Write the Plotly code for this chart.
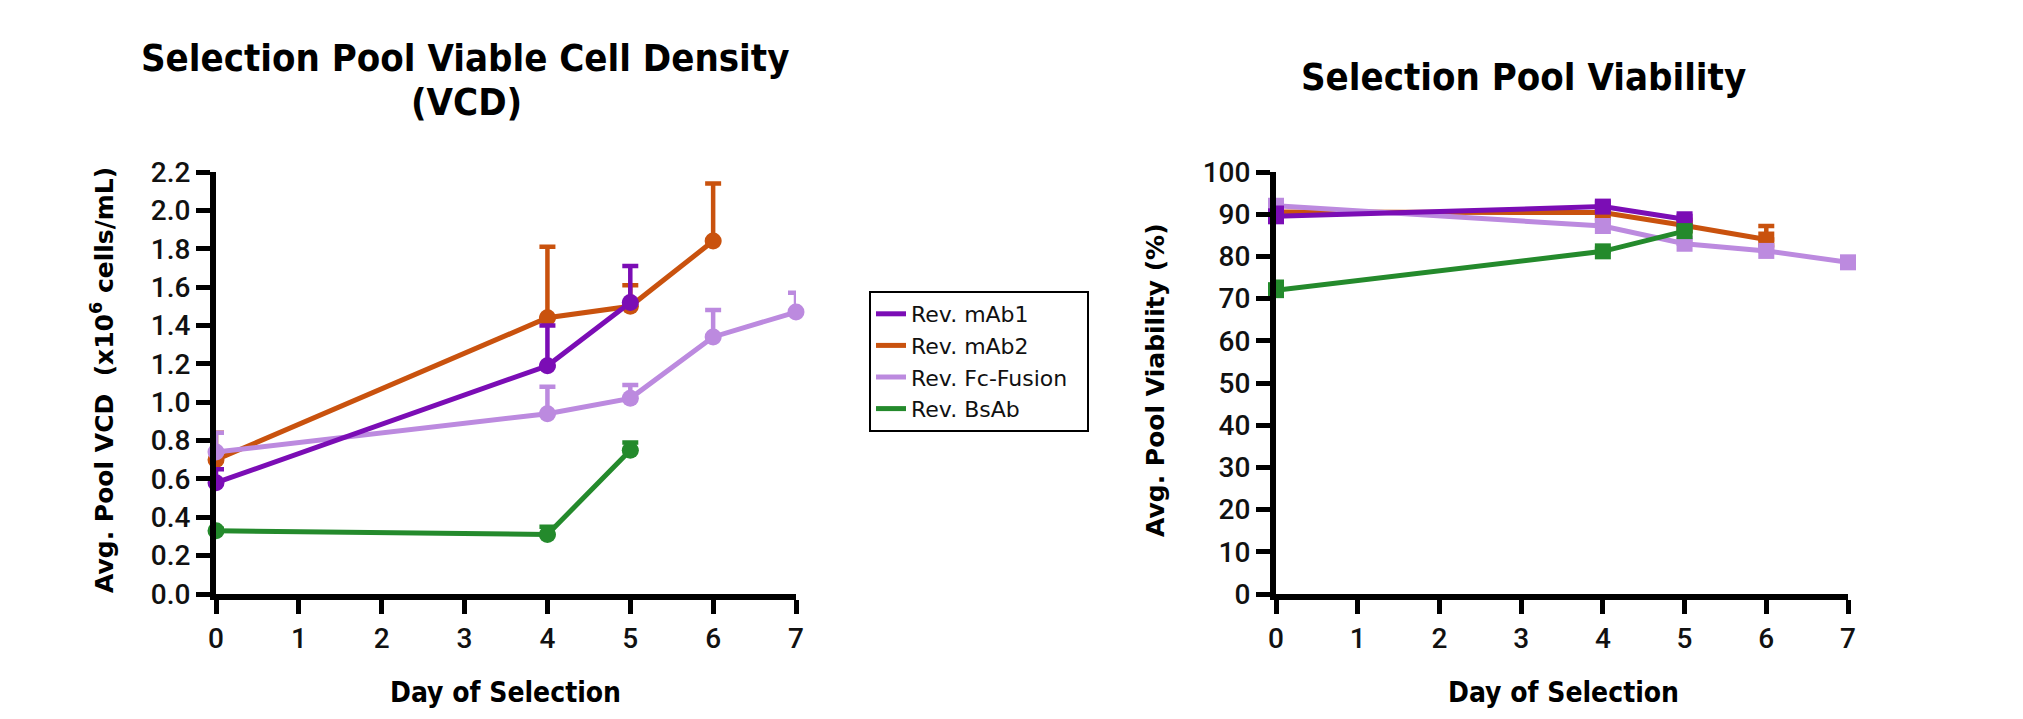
import plotly.graph_objects as go

# Browser window is 2023x719; the page body keeps its default 8px margin.
WIN_W, WIN_H, BODY_MARGIN = 2023, 719, 8
W, H = WIN_W - 2 * BODY_MARGIN, WIN_H - 2 * BODY_MARGIN

series_names = ["Rev. mAb1", "Rev. mAb2", "Rev. Fc-Fusion", "Rev. BsAb"]
series_colors = ["#7B0DB5", "#C9520E", "#BC8ADF", "#248A2C"]

# Viable cell density (x10^6 cells/mL): mean and upper error
vcd_mab1_days = [0, 4, 5]
vcd_mab1 = [0.58, 1.19, 1.52]
vcd_mab1_err = [0.07, 0.21, 0.19]

vcd_mab2_days = [0, 4, 5, 6]
vcd_mab2 = [0.70, 1.44, 1.50, 1.84]
vcd_mab2_err = [0.14, 0.37, 0.11, 0.30]

vcd_fc_days = [0, 4, 5, 6, 7]
vcd_fc = [0.74, 0.94, 1.02, 1.34, 1.47]
vcd_fc_err = [0.10, 0.14, 0.07, 0.14, 0.10]

vcd_bsab_days = [0, 4, 5]
vcd_bsab = [0.33, 0.31, 0.75]
vcd_bsab_err = [0.01, 0.04, 0.04]

# Viability (%): mean and upper error
via_mab1_days = [0, 4, 5]
via_mab1 = [89.5, 91.8, 88.8]
via_mab1_err = [2.0, 1.0, 0.8]

via_mab2_days = [0, 4, 5, 6]
via_mab2 = [90.5, 90.4, 87.3, 84.0]
via_mab2_err = [1.5, 1.0, 0.8, 3.2]

via_fc_days = [0, 4, 5, 6, 7]
via_fc = [92.0, 87.2, 83.0, 81.3, 78.6]
via_fc_err = [1.0, 0.8, 0.8, 0.8, 0.6]

via_bsab_days = [0, 4, 5]
via_bsab = [72.0, 81.2, 86.0]
via_bsab_err = [2.0, 0.6, 0.8]

x_ticks = [0, 1, 2, 3, 4, 5, 6, 7]
vcd_ticks = [0.0, 0.2, 0.4, 0.6, 0.8, 1.0, 1.2, 1.4, 1.6, 1.8, 2.0, 2.2]
via_ticks = [0, 10, 20, 30, 40, 50, 60, 70, 80, 90, 100]

vcd_data = [
    (vcd_mab1_days, vcd_mab1, vcd_mab1_err),
    (vcd_mab2_days, vcd_mab2, vcd_mab2_err),
    (vcd_fc_days, vcd_fc, vcd_fc_err),
    (vcd_bsab_days, vcd_bsab, vcd_bsab_err),
]
via_data = [
    (via_mab1_days, via_mab1, via_mab1_err),
    (via_mab2_days, via_mab2, via_mab2_err),
    (via_fc_days, via_fc, via_fc_err),
    (via_bsab_days, via_bsab, via_bsab_err),
]

draw_order = [1, 2, 0, 3]

fig = go.Figure()

def add_series(data, xa, ya, symbol, msize):
    for i in draw_order:
        d, v, e = data[i]
        c = series_colors[i]
        fig.add_trace(go.Scatter(
            x=d, y=v, mode="lines+markers", xaxis=xa, yaxis=ya,
            line=dict(color=c, width=5),
            marker=dict(color=c, size=msize, symbol=symbol),
            error_y=dict(type="data", symmetric=False, array=e,
                         arrayminus=[0] * len(e), color=c, thickness=4.5, width=8),
            cliponaxis=False, showlegend=False, hoverinfo="skip",
        ))

add_series(vcd_data, "x", "y", "circle", 17)
add_series(via_data, "x2", "y2", "square", 16)

for i, name in enumerate(series_names):
    fig.add_trace(go.Scatter(
        x=[None], y=[None], mode="lines", name=name + "\u00a0\u00a0",
        line=dict(color=series_colors[i], width=5), xaxis="x", yaxis="y",
    ))

def px_x(p):
    return (p - BODY_MARGIN) / W

def px_y(p):
    return 1 - (p - BODY_MARGIN) / H

tick_font = dict(family="Roboto", size=28, color="#111111", weight=500)
axis_common = dict(showline=True, linewidth=6, linecolor="black", ticks="outside",
                   ticklen=14, tickwidth=5, tickcolor="black", showgrid=False,
                   zeroline=False, tickfont=tick_font, fixedrange=True)

fig.update_layout(
    width=W, height=H,
    margin=dict(l=0, r=0, t=0, b=0, autoexpand=False),
    paper_bgcolor="white", plot_bgcolor="white",
    xaxis=dict(domain=[px_x(216), px_x(796)], range=[0, 7], tickvals=x_ticks,
               anchor="y", **axis_common),
    yaxis=dict(domain=[px_y(594), px_y(172)], range=[0, 2.2], tickvals=vcd_ticks,
               tickformat=".1f", anchor="x", **axis_common),
    xaxis2=dict(domain=[px_x(1276), px_x(1848)], range=[0, 7], tickvals=x_ticks,
                anchor="y2", **axis_common),
    yaxis2=dict(domain=[px_y(594), px_y(172)], range=[0, 100], tickvals=via_ticks,
                anchor="x2", **axis_common),
    legend=dict(x=px_x(869), y=px_y(291), xanchor="left", yanchor="top",
                bordercolor="black", borderwidth=2, bgcolor="white",
                font=dict(family="DejaVu Sans", size=22, color="#111111"),
                tracegroupgap=0, itemwidth=30),
    showlegend=True,
)

title_font = dict(family="DejaVu Sans Condensed", size=38, color="black", weight="bold")
axis_title_font = dict(family="DejaVu Sans Condensed", size=28, color="black", weight="bold")
ytitle_font = dict(family="DejaVu Sans", size=25, color="black", weight="bold")

def note(text, x, y, font, angle=0):
    return dict(text=text, x=px_x(x), y=px_y(y), font=font, showarrow=False,
                xref="paper", yref="paper", textangle=angle,
                xanchor="center", yanchor="middle")

annotations = [
    note("Selection Pool Viable Cell Density", 465, 58, title_font),
    note("(VCD)", 466, 102, title_font),
    note("Selection Pool Viability", 1523, 77, title_font),
    note("Day of Selection", 505, 692, axis_title_font),
    note("Day of Selection", 1563, 692, axis_title_font),
    note("Avg. Pool VCD  (x10<sup>6</sup> cells/mL)", 102, 380, ytitle_font, -90),
    note("Avg. Pool Viability (%)", 1155, 380, ytitle_font, -90),
]
fig.update_layout(annotations=annotations)

fig.write_html("out.html")
